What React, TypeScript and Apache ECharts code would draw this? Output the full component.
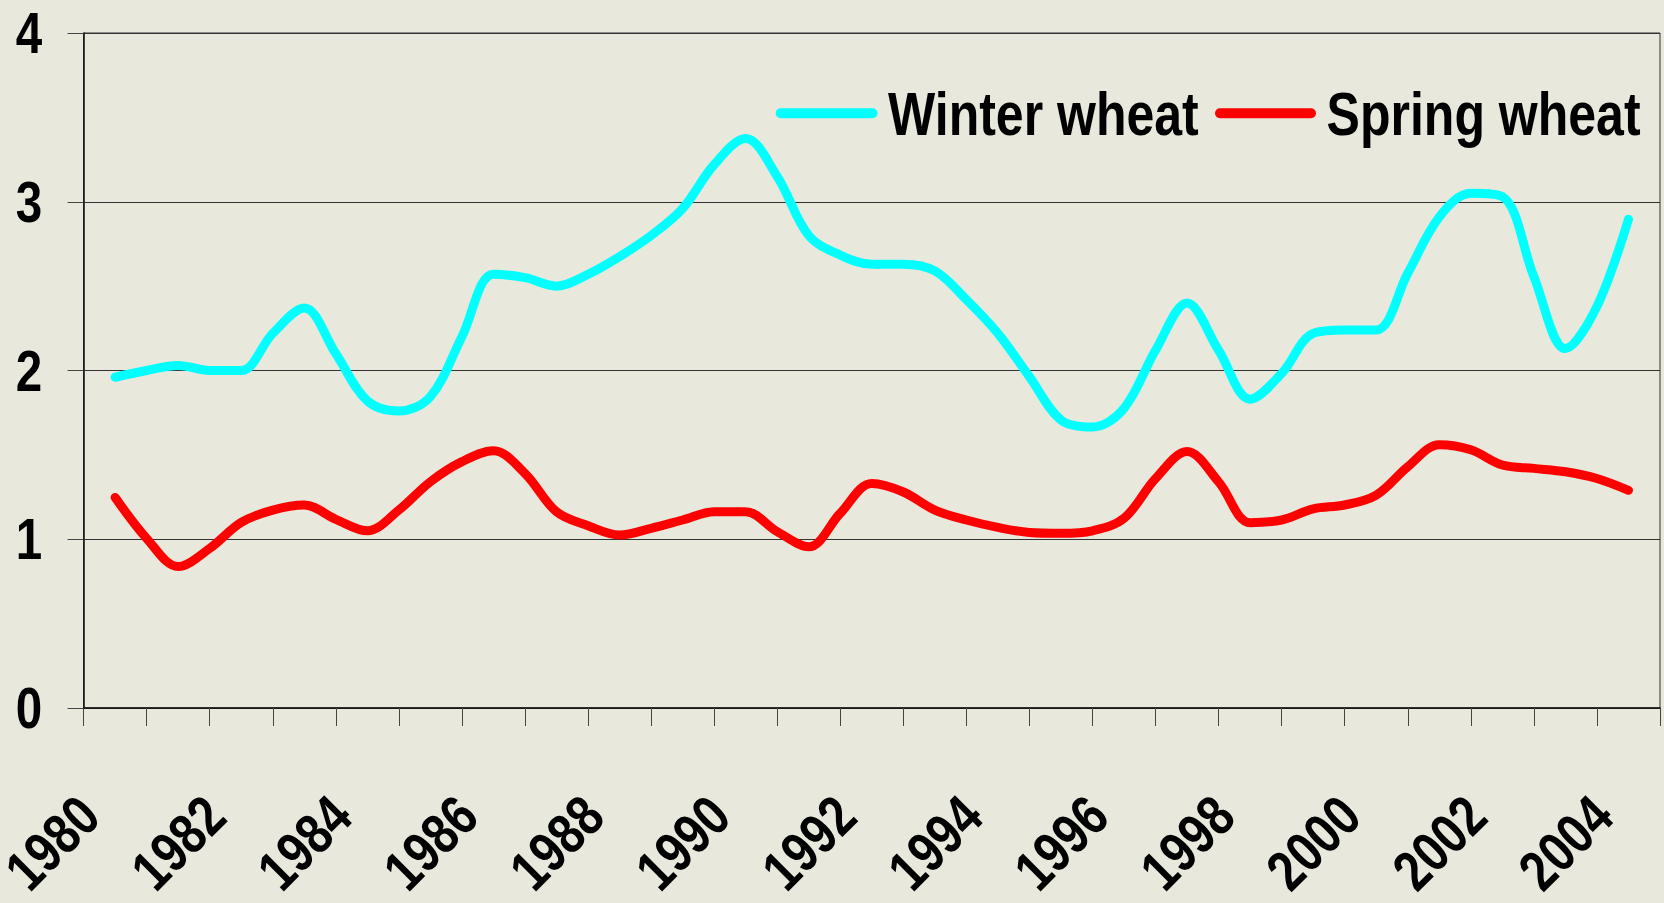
import React, { useEffect, useRef } from 'react';
import * as echarts from 'echarts';

// Half-year sampling positions (data for a year is plotted at the middle of its slot)
const years = [
  1980, 1980.5, 1981, 1981.5, 1982, 1982.5, 1983, 1983.5, 1984, 1984.5,
  1985, 1985.5, 1986, 1986.5, 1987, 1987.5, 1988, 1988.5, 1989, 1989.5,
  1990, 1990.5, 1991, 1991.5, 1992, 1992.5, 1993, 1993.5, 1994, 1994.5,
  1995, 1995.5, 1996, 1996.5, 1997, 1997.5, 1998, 1998.5, 1999, 1999.5,
  2000, 2000.5, 2001, 2001.5, 2002, 2002.5, 2003, 2003.5, 2004,
];

const winterWheat = [
  1.96, 2.0, 2.03, 2.0, 2.0, 2.22, 2.37, 2.1, 1.82, 1.76,
  1.845, 2.2, 2.57, 2.55, 2.5, 2.57, 2.675, 2.8, 2.96, 3.22,
  3.375, 3.15, 2.8, 2.684, 2.63, 2.63, 2.59, 2.42, 2.22, 1.963,
  1.707, 1.665, 1.776, 2.12, 2.4, 2.12, 1.83, 1.983, 2.22, 2.24,
  2.24, 2.576, 2.91, 3.05, 3.03, 2.556, 2.13, 2.38, 2.896,
];

const springWheat = [
  1.248, 1.005, 0.838, 0.946, 1.1, 1.173, 1.203, 1.118, 1.05, 1.173,
  1.341, 1.46, 1.525, 1.39, 1.163, 1.08, 1.025, 1.065, 1.114, 1.163,
  1.163, 1.045, 0.955, 1.154, 1.33, 1.28, 1.173, 1.114, 1.07, 1.04,
  1.035, 1.05, 1.124, 1.36, 1.52, 1.34, 1.098, 1.114, 1.18, 1.203,
  1.262, 1.43, 1.56, 1.53, 1.44, 1.42, 1.4, 1.36, 1.29,
];

const yearLabels = [1980, 1982, 1984, 1986, 1988, 1990, 1992, 1994, 1996, 1998, 2000, 2002, 2004];
const yTicks = [0, 1, 2, 3, 4];
const seriesNames = ['Winter wheat', 'Spring wheat'];
const seriesColors = ['#00FFFF', '#FF0000'];

const FONT = "'Liberation Sans', Arial, sans-serif";
const NARROW = 0.82; // Arial Narrow look

export default function App() {
  const ref = useRef<HTMLDivElement>(null);

  useEffect(() => {
    if (!ref.current) return;
    const chart = echarts.init(ref.current, null, { renderer: 'svg' });
    const toPoints = (vals: number[]) => years.map((y, i) => [y + 0.5, vals[i]]);
    chart.setOption({
      animation: false,
      backgroundColor: '#E8E8DC',
      grid: {
        left: 83.6,
        right: 4,
        top: 33,
        bottom: 195,
        show: true,
        borderColor: '#333',
        borderWidth: 1,
        backgroundColor: 'transparent',
        outerBoundsMode: 'none',
        containLabel: false,
      },
      xAxis: {
        type: 'value',
        min: 1980,
        max: 2005,
        interval: 1,
        axisLine: { show: true, onZero: false, lineStyle: { color: '#111', width: 1.5 } },
        axisTick: { show: true, length: 18, lineStyle: { color: '#444', width: 1 } },
        splitLine: { show: false },
        axisLabel: { show: false },
      },
      yAxis: {
        type: 'value',
        min: 0,
        max: 4,
        interval: 1,
        axisLine: { show: true, lineStyle: { color: '#111', width: 1.5 } },
        axisTick: { show: true, length: 16, lineStyle: { color: '#444', width: 1 } },
        splitLine: { show: true, lineStyle: { color: '#333', width: 1 } },
        axisLabel: { show: false },
      },
      series: [
        {
          name: seriesNames[0],
          type: 'line',
          data: toPoints(winterWheat),
          smooth: 0.35,
          showSymbol: false,
          symbol: 'none',
          color: seriesColors[0],
          lineStyle: { color: seriesColors[0], width: 9, cap: 'round', join: 'round' },
          z: 3,
        },
        {
          name: seriesNames[1],
          type: 'line',
          data: toPoints(springWheat),
          smooth: 0.35,
          showSymbol: false,
          symbol: 'none',
          color: seriesColors[1],
          lineStyle: { color: seriesColors[1], width: 9, cap: 'round', join: 'round' },
          z: 3,
        },
      ],
    });

    const px = (x: number, y: number) =>
      chart.convertToPixel({ gridIndex: 0 }, [x, y]) as number[];

    const textStyle = (text: string, size: number, align: string, lineHeight?: number) => ({
      text,
      fontFamily: FONT,
      fontSize: size,
      fontWeight: 'bold',
      fill: '#000',
      align,
      verticalAlign: 'middle',
      ...(lineHeight ? { lineHeight } : {}),
    });

    const graphics: any[] = [];

    // y-axis tick labels
    yTicks.forEach((v) => {
      const p = px(1980, v);
      graphics.push({
        type: 'text',
        x: p[0] - 41.5,
        y: p[1],
        scaleX: NARROW,
        silent: true,
        style: textStyle(String(v), 58, 'right', 44),
      });
    });

    // x-axis labels, rotated 45°
    yearLabels.forEach((yr) => {
      const p = px(yr, 0);
      graphics.push({
        type: 'text',
        x: p[0] + 5.5,
        y: p[1] + 98,
        rotation: Math.PI / 4,
        scaleX: NARROW,
        silent: true,
        style: textStyle(String(yr), 57, 'right', 36),
      });
    });

    // legend (top right)
    const legendY = 113.3;
    const legendItems = [
      { lineX1: 780.7, lineX2: 872.5, textX: 888 },
      { lineX1: 1220, lineX2: 1311, textX: 1326.6 },
    ];
    legendItems.forEach((it, i) => {
      graphics.push({
        type: 'line',
        silent: true,
        shape: { x1: it.lineX1, y1: legendY, x2: it.lineX2, y2: legendY },
        style: { stroke: seriesColors[i], lineWidth: 10, lineCap: 'round' },
        z: 10,
      });
      graphics.push({
        type: 'text',
        x: it.textX,
        y: legendY + 0.5,
        scaleX: NARROW,
        silent: true,
        style: textStyle(seriesNames[i], 61, 'left', 50),
        z: 10,
      });
    });

    chart.setOption({ graphic: graphics });

    return () => chart.dispose();
  }, []);

  return (
    <div
      ref={ref}
      style={{ position: 'fixed', left: 0, top: 0, width: 1664, height: 903 }}
    />
  );
}
